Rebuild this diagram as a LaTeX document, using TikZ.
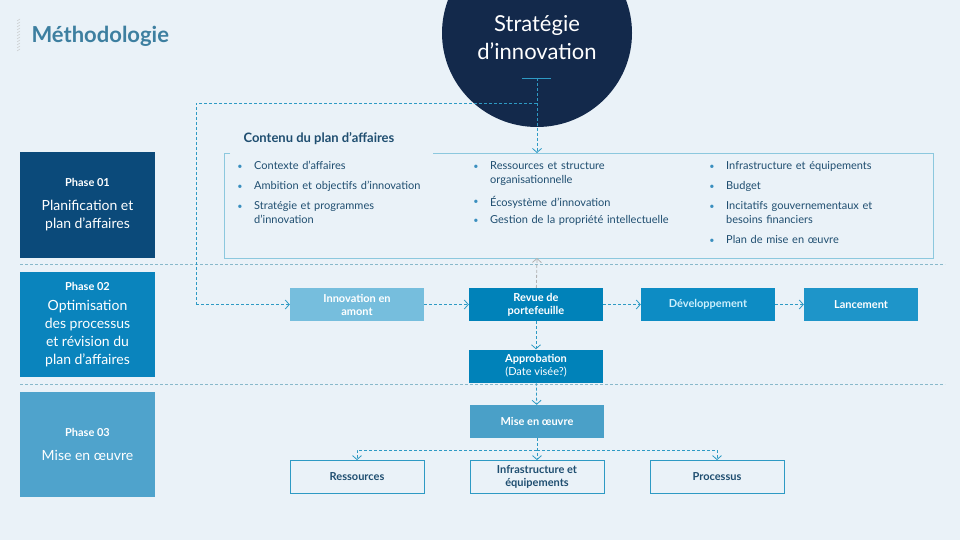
\documentclass[tikz,border=0pt]{standalone}
\usepackage{fontspec}
\setmainfont{Lato}
\usetikzlibrary{arrows.meta, positioning}
\definecolor{bgc}{HTML}{EAF2F8}
\definecolor{navy}{HTML}{13294B}
\definecolor{titc}{HTML}{3D7FA0}
\definecolor{ph1}{HTML}{0B4A7A}
\definecolor{ph2}{HTML}{0A84BD}
\definecolor{ph3}{HTML}{4FA3CC}
\definecolor{amont}{HTML}{76BEDD}
\definecolor{revue}{HTML}{0082B9}
\definecolor{devc}{HTML}{0D8CC4}
\definecolor{lanc}{HTML}{1E95C9}
\definecolor{misec}{HTML}{4AA0C8}
\definecolor{linec}{HTML}{2E9AC4}
\definecolor{framec}{HTML}{8CC8DE}
\definecolor{txtc}{HTML}{1F4E70}
\definecolor{bulc}{HTML}{3A8FBF}
\tikzset{>={Straight Barb[length=4pt,width=9pt]}}
\tikzset{
  phase/.style={minimum width=135pt, minimum height=105pt, text=white, align=center, inner sep=0pt, font=\fontsize{14}{18}\selectfont},
  flowbox/.style={minimum width=134pt, minimum height=33pt, text=white, align=center, inner sep=0pt, font=\fontsize{11}{13}\selectfont\bfseries},
  leaf/.style={flowbox, draw=linec, text=txtc, thick},
  flow/.style={linec, thick, dash pattern=on 3pt off 2pt},
  sep/.style={framec!80!gray, dash pattern=on 3pt off 2pt},
  item/.style={anchor=north west, text width=200pt, align=left, text=txtc, inner sep=0pt, font=\fontsize{11}{14}\selectfont},
}
\newcommand{\bul}[3]{\node[bulc, font=\fontsize{9}{9}\selectfont] at (#1-14,#2+6) {•}; \node[item] at (#1,#2) {#3};}
\begin{document}
\begin{tikzpicture}[x=1pt, y=-1pt]
\fill[bgc] (0,0) rectangle (960,540);
\useasboundingbox (0,0) rectangle (960,540);
% title
\foreach \i in {0,...,10} \draw[gray!50, line width=0.4pt] (17,21+3*\i) -- (20,19+3*\i);
\node[anchor=west, text=titc, font=\fontsize{22}{26}\selectfont\bfseries] (titre) at (28,36) {Méthodologie};
% strategy circle
\fill[navy] (537,33) ellipse [x radius=95pt, y radius=94pt];
\node[text=white, align=center, font=\fontsize{22}{28}\selectfont] (strat) at (537,38) {Stratégie\\d’innovation};
\draw[linec, thick] (522,78) -- (551,78);
% separators
\draw[sep] (20,264) -- (945,264);
\draw[sep] (20,384) -- (945,384);
% phases
\node[phase, fill=ph1] (p1) at (87.5,205) {{\fontsize{11}{14}\selectfont\bfseries Phase 01}\\[6pt]Planification et\\plan d’affaires};
\node[phase, fill=ph2] (p2) at (87.5,324.5) {{\fontsize{11}{14}\selectfont\bfseries Phase 02}\\[2pt]Optimisation\\des processus\\et révision du\\plan d’affaires};
\node[phase, fill=ph3] (p3) at (87.5,444) {{\fontsize{11}{14}\selectfont\bfseries Phase 03}\\[6pt]Mise en œuvre};
% content frame
\draw[framec] (230,153) -- (224,153) -- (224,258) -- (933,258) -- (933,153) -- (433,153);
\node[anchor=west, text=txtc, font=\fontsize{13}{16}\selectfont\bfseries] (contenu) at (240,139) {Contenu du plan d’affaires};
\bul{254}{161}{Contexte d’affaires}
\bul{254}{181}{Ambition et objectifs d’innovation}
\bul{254}{201}{Stratégie et programmes\\d’innovation}
\bul{490}{161}{Ressources et structure\\organisationnelle}
\bul{490}{196}{Écosystème d’innovation}
\bul{490}{215}{Gestion de la propriété intellectuelle}
\bul{726}{161}{Infrastructure et équipements}
\bul{726}{181}{Budget}
\bul{726}{201}{Incitatifs gouvernementaux et\\besoins financiers}
\bul{726}{235}{Plan de mise en œuvre}
\coordinate (cadre) at (537,153);
\coordinate (cadrebas) at (537,258);
% flow
\node[flowbox, fill=amont] (amont) at (357,304.5) {Innovation en\\amont};
\node[flowbox, fill=revue] (revue) at (536,304.5) {Revue de\\portefeuille};
\node[flowbox, fill=devc, text=white!80!cyan] (dev) at (708,304.5) {Développement};
\node[flowbox, fill=lanc, minimum width=114pt] (lanc) at (861,304.5) {Lancement};
\node[flowbox, fill=revue] (appro) at (536,366) {Approbation\\{\mdseries(Date visée?)}};
\node[flowbox, fill=misec] (mise) at (537,421.5) {Mise en œuvre};
\node[leaf] (res) at (357,477) {Ressources};
\node[leaf] (infra) at (537,477) {Infrastructure et\\équipements};
\node[leaf] (proc) at (717,477) {Processus};
% connectors
\coordinate (c0) at (537,78);
\coordinate (c1) at (537,103);
\coordinate (c2) at (196,103);
\coordinate (c3) at (196,304.5);
\coordinate (fork) at (537,450);
\draw[flow, ->] (c0) -- (cadre);
\draw[flow] (c1) -- (c2) -- (c3);
\draw[flow, ->] (c3) -- (amont);
\draw[flow, ->] (amont) -- (revue);
\draw[flow, ->] (revue) -- (dev);
\draw[flow, ->] (dev) -- (lanc);
\draw[flow, gray!60, ->] (revue) -- (cadrebas);
\draw[flow, ->] (revue) -- (appro);
\draw[flow, ->] (appro) -- (mise);
\draw[flow, ->] (mise) -- (infra);
\draw[flow, ->] (fork) -| (res);
\draw[flow, ->] (fork) -| (proc);
\end{tikzpicture}
\end{document}
